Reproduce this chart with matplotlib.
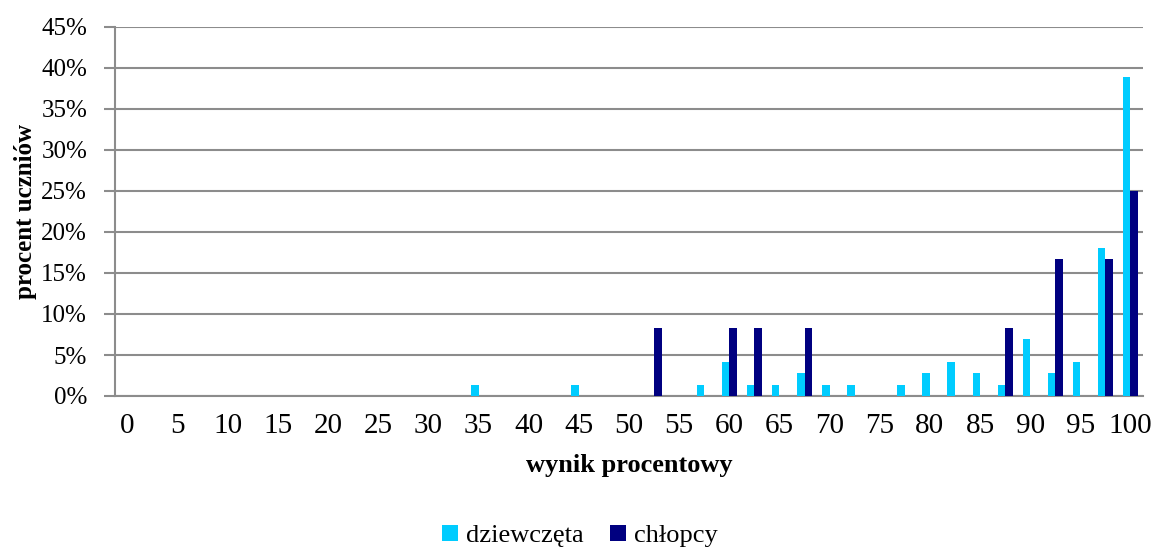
import numpy as np
import matplotlib
matplotlib.use("Agg")
import matplotlib.pyplot as plt

plt.rcParams['font.family'] = ['Liberation Serif', 'DejaVu Serif']

# categories: wynik procentowy co 2.5
scores = [i * 2.5 for i in range(41)]
tick_labels = [f"{int(s)}" if s % 5 == 0 else "" for s in scores]

# dziewczęta (% uczniów), keyed by score
girls_pts = {35: 1.39, 45: 1.39, 57.5: 1.39, 60: 4.17, 62.5: 1.39, 65: 1.39,
             67.5: 2.78, 70: 1.39, 72.5: 1.39, 77.5: 1.39, 80: 2.78, 82.5: 4.17,
             85: 2.78, 87.5: 1.39, 90: 6.94, 92.5: 2.78, 95: 4.17, 97.5: 18.06,
             100: 38.89}
# chłopcy
boys_pts = {52.5: 8.33, 60: 8.33, 62.5: 8.33, 67.5: 8.33, 87.5: 8.33,
            92.5: 16.67, 97.5: 16.67, 100: 25.0}

girls = [girls_pts.get(s, 0) for s in scores]
boys = [boys_pts.get(s, 0) for s in scores]

c_girls = '#00CCFF'
c_boys = '#000080'
grid_c = '#8C8C8C'

fig = plt.figure(figsize=(11.55, 5.5), dpi=100)
ax = fig.add_axes([115 / 1155, 1 - 396 / 550, 1028 / 1155, 369 / 550])

x = np.arange(len(scores))
w = 0.3
ax.bar(x - w / 2, girls, w, color=c_girls, label='dziewczęta', zorder=3)
ax.bar(x + w / 2, boys, w, color=c_boys, label='chłopcy', zorder=3)

ax.set_xlim(-0.5, len(scores) - 0.5)
ax.set_ylim(0, 45)
ax.set_yticks(range(0, 46, 5))
ax.set_yticklabels([f"{v}%" for v in range(0, 46, 5)], fontsize=18)
ax.set_xticks(x)
ax.set_xticklabels(tick_labels, fontsize=21)
ax.tick_params(axis='x', length=0, pad=12)
ax.tick_params(axis='y', length=8, width=1.5, color=grid_c, pad=12)

ax.yaxis.grid(True, color=grid_c, linewidth=1.5, zorder=0)
ax.set_axisbelow(True)
for s in ['top', 'right']:
    ax.spines[s].set_visible(False)
for s in ['left', 'bottom']:
    ax.spines[s].set_color(grid_c)
    ax.spines[s].set_linewidth(1.5)

ax.set_xlabel('wynik procentowy', fontsize=19, fontweight='bold', labelpad=11)
ax.set_ylabel('procent uczniów', fontsize=18, fontweight='bold', labelpad=3)

fig.legend(loc='center', bbox_to_anchor=(580 / 1155, 1 - 536 / 550), ncol=2,
           frameon=False, fontsize=19, handlelength=0.6, handleheight=0.6,
           handletextpad=0.3, columnspacing=1.0)

fig.savefig('out.png', dpi=100)
